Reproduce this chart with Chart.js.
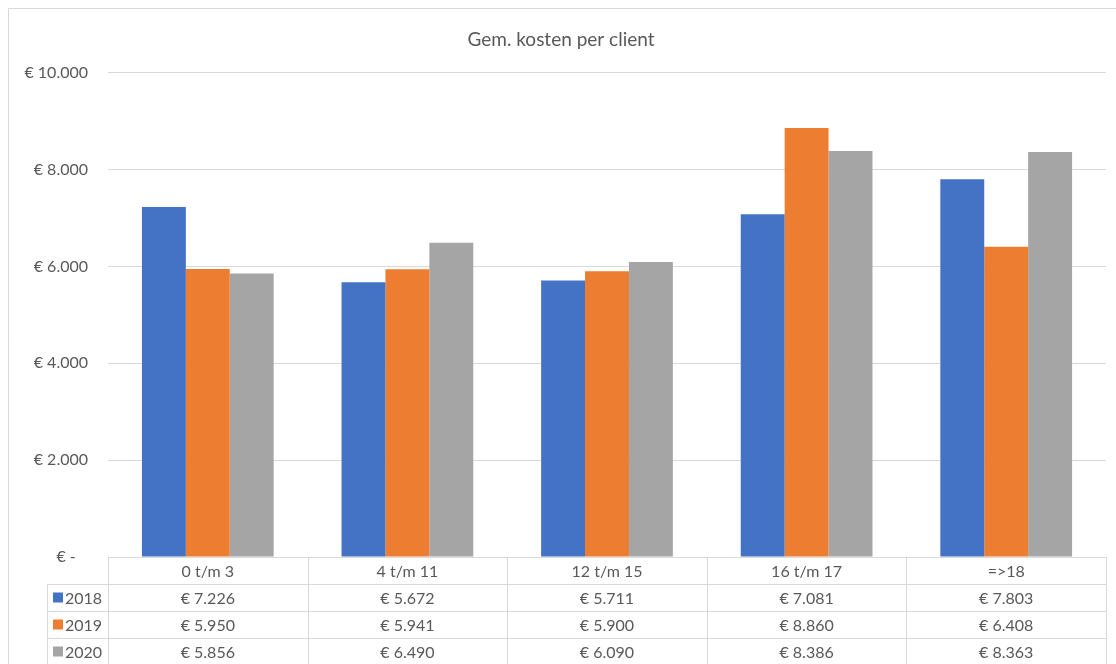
<!DOCTYPE html>
<html>
<head>
<meta charset="utf-8">
<script src="https://cdn.jsdelivr.net/npm/chart.js@4"></script>
<style>
  html, body { margin: 0; padding: 0; background: #fff; }
  #wrap { width: 1116px; height: 664px; position: relative; }
</style>
</head>
<body>
<div id="wrap"><canvas id="kosten"></canvas></div>
<script>
// Leeftijdsgroepen en gemiddelde kosten per jaar
const categories = ["0 t/m 3", "4 t/m 11", "12 t/m 15", "16 t/m 17", "=>18"];
const years = ["2018", "2019", "2020"];
const kosten2018 = [7226, 5672, 5711, 7081, 7803];
const kosten2019 = [5950, 5941, 5900, 8860, 6408];
const kosten2020 = [5856, 6490, 6090, 8386, 8363];
const yTicks = [0, 2000, 4000, 6000, 8000, 10000];

const colors = ["#4472C4", "#ED7D31", "#A5A5A5"];
const textColor = "#595959";
const lineColor = "#D9D9D9";
const fontFamily = "Lato, 'Open Sans', sans-serif";

// 7226 -> "€ 7.226", 0 -> "€ -"
function euro(v) {
  if (v === 0) return "€ -   ";
  return "€ " + String(v).replace(/\B(?=(\d{3})+(?!\d))/g, ".");
}

// Excel-style data table under the bars
const dataTable = {
  id: "dataTable",
  beforeDraw(chart) {
    const ctx = chart.ctx;
    ctx.save();
    ctx.strokeStyle = lineColor;
    ctx.lineWidth = 1;
    ctx.beginPath();
    ctx.moveTo(8.5, 700);
    ctx.lineTo(8.5, 8.5);
    ctx.lineTo(1116, 8.5);
    ctx.stroke();
    ctx.restore();
  },
  afterDraw(chart) {
    const { ctx, chartArea } = chart;
    const x = chart.scales.x;
    const rows = [kosten2018, kosten2019, kosten2020];
    const rowH = 27;
    const top = chartArea.bottom;
    const legendLeft = 47;
    const n = categories.length;
    const colW = (chartArea.right - chartArea.left) / n;

    ctx.save();
    ctx.strokeStyle = lineColor;
    ctx.lineWidth = 1;
    ctx.beginPath();
    // horizontal lines
    ctx.moveTo(chartArea.left, top + 0.5);
    ctx.lineTo(chartArea.right, top + 0.5);
    for (let r = 1; r <= rows.length + 1; r++) {
      const y = Math.round(top + r * rowH) + 0.5;
      ctx.moveTo(legendLeft, y);
      ctx.lineTo(chartArea.right, y);
    }
    // vertical lines
    for (let i = 0; i <= n; i++) {
      const xx = Math.round(chartArea.left + i * colW) + 0.5;
      ctx.moveTo(xx, top);
      ctx.lineTo(xx, top + (rows.length + 1) * rowH);
    }
    ctx.moveTo(legendLeft + 0.5, top + rowH);
    ctx.lineTo(legendLeft + 0.5, top + (rows.length + 1) * rowH);
    ctx.stroke();

    ctx.fillStyle = textColor;
    ctx.font = "16px " + fontFamily;
    ctx.textAlign = "center";
    ctx.textBaseline = "middle";
    categories.forEach((c, i) => {
      ctx.fillText(c, x.getPixelForValue(i), top + rowH / 2 + 1);
    });
    rows.forEach((vals, r) => {
      const yc = top + (r + 1) * rowH + rowH / 2 + 1;
      vals.forEach((v, i) => {
        ctx.fillText(euro(v), x.getPixelForValue(i), yc);
      });
      // legend key + year
      ctx.fillStyle = colors[r];
      ctx.fillRect(legendLeft + 6, yc - 6, 10, 10);
      ctx.fillStyle = textColor;
      ctx.textAlign = "left";
      ctx.fillText(years[r], legendLeft + 18, yc);
      ctx.textAlign = "center";
    });
    ctx.restore();
  }
};

new Chart(document.getElementById("kosten"), {
  type: "bar",
  data: {
    labels: categories,
    datasets: [
      { label: years[0], data: kosten2018, backgroundColor: colors[0] },
      { label: years[1], data: kosten2019, backgroundColor: colors[1] },
      { label: years[2], data: kosten2020, backgroundColor: colors[2] }
    ]
  },
  options: {
    responsive: true,
    maintainAspectRatio: false,
    animation: false,
    layout: { padding: { left: 16, right: 10, top: 0, bottom: 107 } },
    datasets: { bar: { categoryPercentage: 0.66, barPercentage: 1 } },
    plugins: {
      legend: { display: false },
      tooltip: { enabled: false },
      title: {
        display: true,
        text: "Gem. kosten per client",
        color: textColor,
        font: { family: fontFamily, size: 19, weight: "normal" },
        padding: { top: 28, bottom: 22 }
      }
    },
    scales: {
      x: { display: false },
      y: {
        min: 0,
        max: 10000,
        afterBuildTicks: (scale) => { scale.ticks = yTicks.map(v => ({ value: v })); },
        afterFit: (scale) => { scale.width = 92; },
        border: { display: false },
        grid: { color: lineColor, drawTicks: false },
        ticks: {
          padding: 20,
          color: textColor,
          font: { family: fontFamily, size: 16 },
          callback: (v) => euro(v)
        }
      }
    }
  },
  plugins: [dataTable]
});
</script>
</body>
</html>
